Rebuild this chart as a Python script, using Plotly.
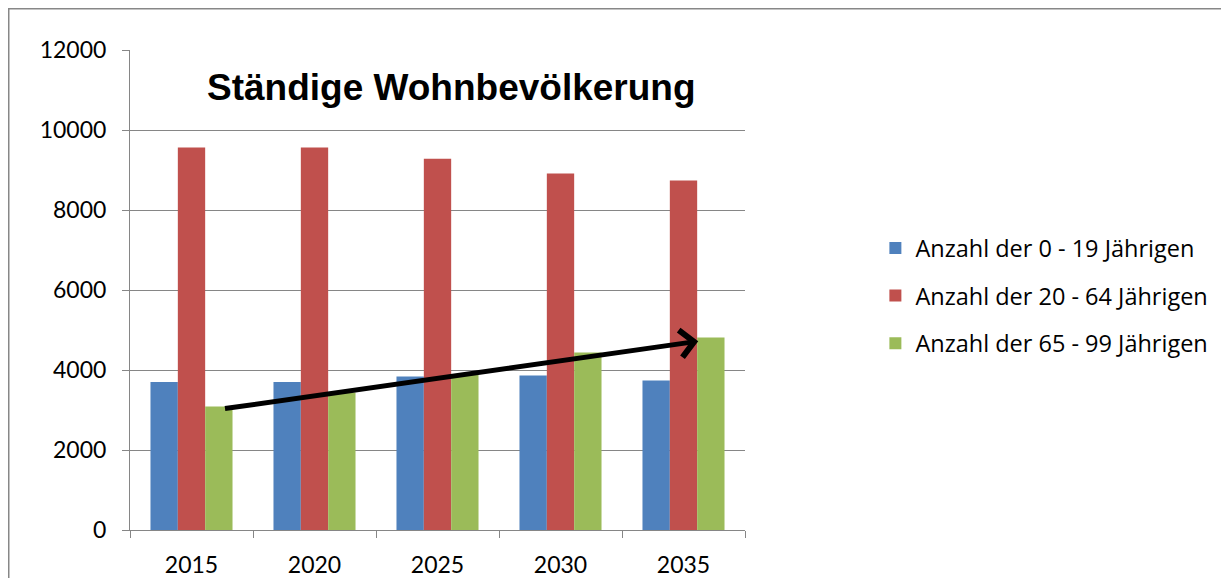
import plotly.graph_objects as go

years = ["2015", "2020", "2025", "2030", "2035"]
age_0_19 = [3700, 3700, 3840, 3860, 3740]
age_20_64 = [9560, 9560, 9280, 8910, 8740]
age_65_99 = [3090, 3440, 3880, 4440, 4810]
series_names = ["Anzahl der 0 - 19 Jährigen", "Anzahl der 20 - 64 Jährigen", "Anzahl der 65 - 99 Jährigen"]
series_colors = ["#4F81BD", "#C0504D", "#9BBB59"]
title_text = "Ständige Wohnbevölkerung"
y_ticks = [0, 2000, 4000, 6000, 8000, 10000, 12000]

# trend arrow (category index, value)
arrow_start = (0.26, 3030)
arrow_end = (4.12, 4720)

fig = go.Figure()
for name, vals, col in zip(series_names, [age_0_19, age_20_64, age_65_99], series_colors):
    fig.add_trace(go.Bar(x=years, y=vals, name=name, marker=dict(color=col, line=dict(width=0)),
                         legendgroup=name))

font_fam = "Lato, 'Open Sans', sans-serif"
W, H = 1221, 570
ML, MR, MT, MB = 122, 484, 42, 48
fig.update_layout(
    width=W, height=H,
    margin=dict(l=ML, r=MR, t=MT, b=MB, autoexpand=False),
    paper_bgcolor="white", plot_bgcolor="white",
    barmode="group", bargap=0.333, bargroupgap=0,
    font=dict(family=font_fam, size=23, color="#000000"),
    legend=dict(x=1.212, xanchor="left", y=0.488, yanchor="middle",
                font=dict(size=23.5, family="'Open Sans', sans-serif"), tracegroupgap=14,
                traceorder="grouped", itemwidth=30),
    showlegend=True,
)
fig.update_xaxes(type="category", showline=True, linecolor="#868686", linewidth=1,
                 ticks="outside", tickson="boundaries", ticklen=7, tickcolor="#868686",
                 showgrid=False, tickfont=dict(size=23), ticklabelstandoff=14, automargin=False)
fig.update_yaxes(range=[0, 12000], tickvals=y_ticks, tickformat="d", showline=True,
                 linecolor="#868686", linewidth=1, ticks="outside", ticklen=7, tickcolor="#868686",
                 showgrid=True, gridcolor="#868686", gridwidth=1, zeroline=False,
                 tickfont=dict(size=23), ticklabelstandoff=11, automargin=False)

fig.add_annotation(x=0.522, y=0.921, xref="paper", yref="paper", xanchor="center", yanchor="middle",
                   text="<b>" + title_text + "</b>", showarrow=False,
                   font=dict(family="'Liberation Sans', Arial, sans-serif", size=37, color="black"))

fig.add_annotation(x=arrow_end[0], y=arrow_end[1], ax=arrow_start[0], ay=arrow_start[1],
                   xref="x", yref="y", axref="x", ayref="y", text="", showarrow=True,
                   arrowhead=4, arrowsize=1.05, arrowwidth=5, arrowcolor="black")

plot_w = W - ML - MR
plot_h = H - MT - MB
fig.add_shape(type="rect", xref="paper", yref="paper",
              x0=(0.5 - ML) / plot_w, y0=-0.5, x1=3,
              y1=(plot_h + MT - 0.5) / plot_h,
              line=dict(color="#878787", width=2), fillcolor="rgba(0,0,0,0)", layer="below")

fig.write_html("out.html")
